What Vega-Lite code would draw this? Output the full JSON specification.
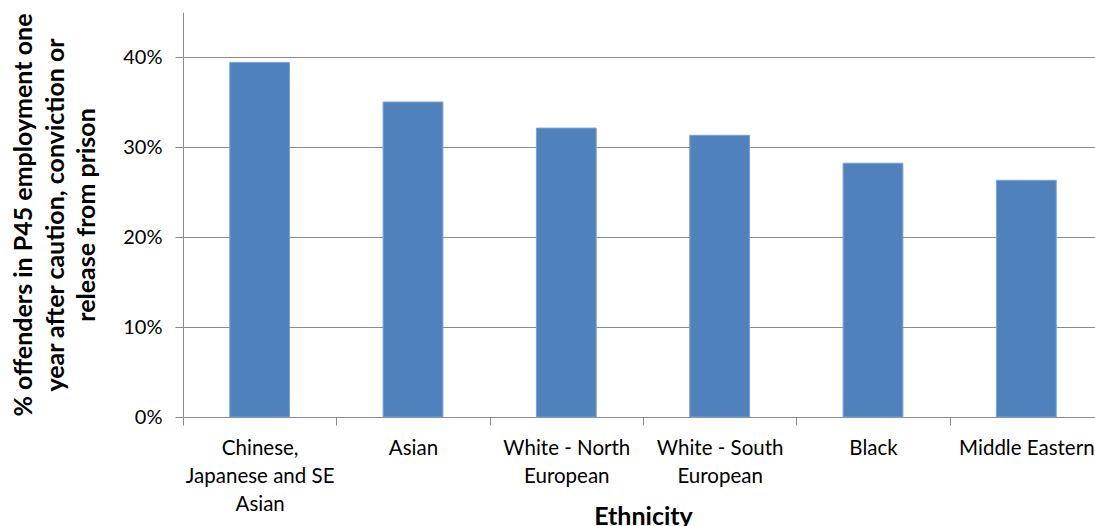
{
  "$schema": "https://vega.github.io/schema/vega-lite/v6.json",
  "width": 912,
  "height": 405,
  "autosize": "none",
  "padding": {"left": 183, "top": 12, "right": 0, "bottom": 109},
  "background": "white",
  "config": {
    "view": {"stroke": null},
    "font": "Lato",
    "axis": {"labelFont": "Lato", "titleFont": "Lato", "labelColor": "#000", "titleColor": "#000", "domainColor": "#8c8c8c", "tickColor": "#8c8c8c", "gridColor": "#8c8c8c"}
  },
  "data": {
    "values": [
      {"ethnicity": "Chinese, Japanese and SE Asian", "pct": 0.394},
      {"ethnicity": "Asian", "pct": 0.350},
      {"ethnicity": "White - North European", "pct": 0.321},
      {"ethnicity": "White - South European", "pct": 0.313},
      {"ethnicity": "Black", "pct": 0.282},
      {"ethnicity": "Middle Eastern", "pct": 0.263}
    ]
  },
  "mark": {"type": "bar", "color": "#4F81BD", "stroke": "#7DA2D2", "strokeWidth": 1, "width": {"band": 0.39}},
  "encoding": {
    "x": {
      "field": "ethnicity",
      "type": "nominal",
      "sort": null,
      "scale": {"paddingInner": 0, "paddingOuter": 0, "range": [0, 920]},
      "axis": {
        "title": "Ethnicity",
        "titleFontSize": 25,
        "titleFontWeight": "bold",
        "titlePadding": -10,
        "labelAngle": 0,
        "labelFontSize": 20.5,
        "labelLineHeight": 28,
        "labelPadding": 13,
        "labelBaseline": "top",
        "tickBand": "extent",
        "tickSize": 8,
        "tickWidth": 1,
        "domainWidth": 1,
        "labelExpr": "datum.value == 'Chinese, Japanese and SE Asian' ? ['Chinese,', 'Japanese and SE', 'Asian'] : datum.value == 'White - North European' ? ['White - North', 'European'] : datum.value == 'White - South European' ? ['White - South', 'European'] : datum.value"
      }
    },
    "y": {
      "field": "pct",
      "type": "quantitative",
      "scale": {"domain": [0, 0.45], "nice": false},
      "axis": {
        "title": ["% offenders in P45 employment one", "year after caution, conviction or", "release from prison"],
        "titleFontSize": 25,
        "titleFontWeight": "bold",
        "titleLineHeight": 31.5,
        "titlePadding": 23,
        "format": ".0%",
        "values": [0, 0.1, 0.2, 0.3, 0.4],
        "labelFontSize": 20,
        "labelPadding": 13,
        "tickSize": 8,
        "grid": true,
        "gridWidth": 1,
        "domainWidth": 1
      }
    }
  }
}
